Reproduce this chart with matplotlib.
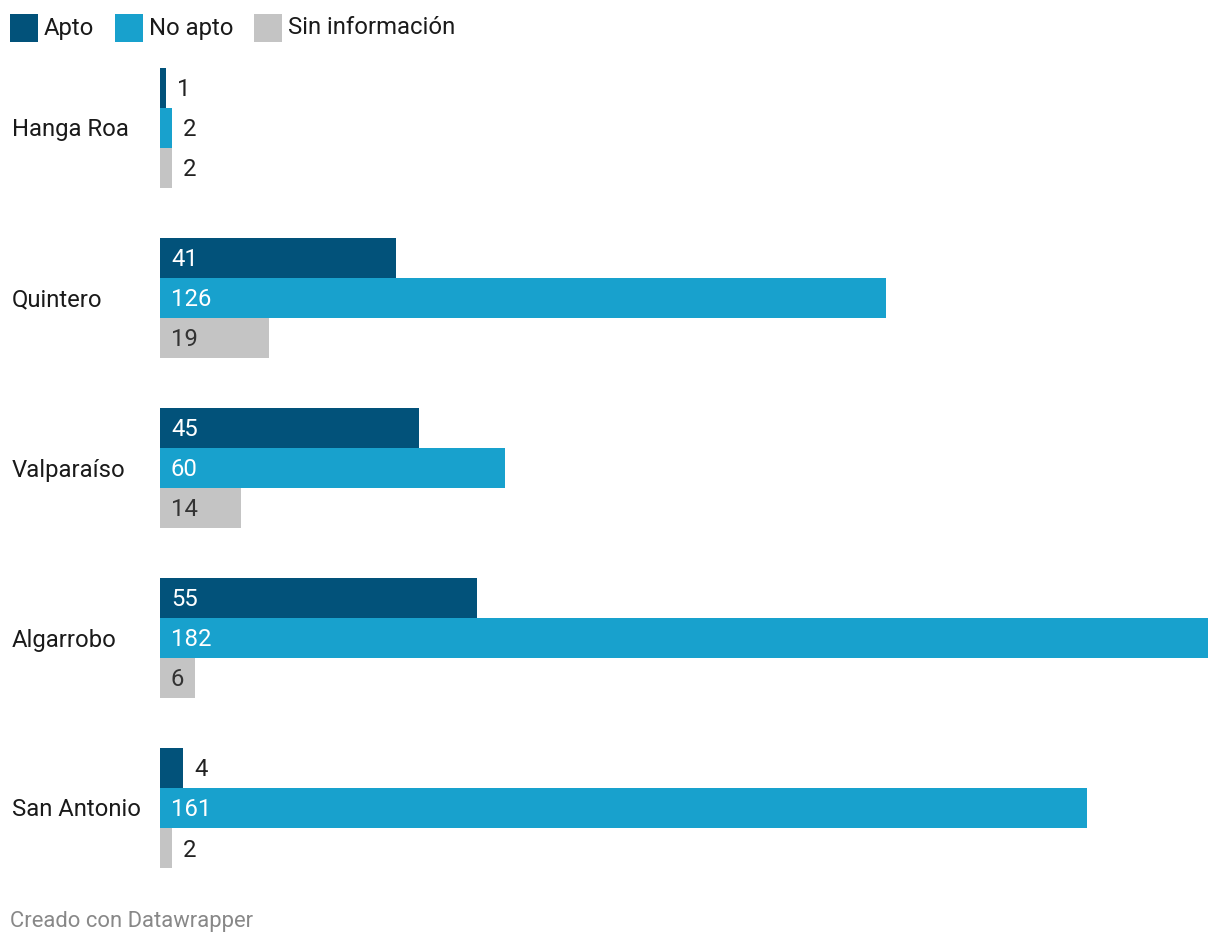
import matplotlib
matplotlib.use("Agg")
import matplotlib.pyplot as plt
from matplotlib.patches import Rectangle
from matplotlib.transforms import blended_transform_factory

plt.rcParams['font.family'] = ['Roboto', 'DejaVu Sans']

# datos
lugares = ["Hanga Roa", "Quintero", "Valparaíso", "Algarrobo", "San Antonio"]
series = ["Apto", "No apto", "Sin información"]
apto = [1, 41, 45, 55, 4]
no_apto = [2, 126, 60, 182, 161]
sin_info = [2, 19, 14, 6, 2]
colores = ["#02527a", "#18a1cd", "#c4c4c4"]
color_texto = ["white", "white", "#333333"]

W, H = 1220, 946
fig = plt.figure(figsize=(W / 100, H / 100), dpi=100)

# ejes en coordenadas de pixel: barras de 40 px, grupos cada 170 px
x0, x1, y0, y1 = 160, 1208, 68, 868
ax = fig.add_axes([x0 / W, 1 - y1 / H, (x1 - x0) / W, (y1 - y0) / H])
ax.set_xlim(0, max(no_apto))
ax.set_ylim(y1 - y0, 0)
ax.axis("off")

bar_h = 40
paso = 170
px = max(no_apto) / (x1 - x0)  # unidades por pixel
fs = 17.2

valores = [apto, no_apto, sin_info]
for i, lugar in enumerate(lugares):
    for j, vals in enumerate(valores):
        v = vals[i]
        y = paso * i + bar_h * j
        ax.barh(y, v, height=bar_h, align="edge", color=colores[j], linewidth=0)
        ancho_txt = len(str(v)) * 13 + 12
        if v / px > ancho_txt + 6:
            ax.text(11 * px, y + bar_h / 2 + 2, str(v), color=color_texto[j],
                    fontsize=fs, va="center", ha="left")
        else:
            ax.text(v + 11 * px, y + bar_h / 2 + 2, str(v), color="#222222",
                    fontsize=fs, va="center", ha="left")
    trans = blended_transform_factory(fig.transFigure, ax.transData)
    ax.text(12 / W, paso * i + bar_h * 1.5 + 2, lugar, transform=trans,
            fontsize=fs, color="#1a1a1a", va="center", ha="left")

# leyenda
leyenda_x = [10, 115, 254]
for k, nombre in enumerate(series):
    lx = leyenda_x[k]
    fig.patches.append(Rectangle((lx / W, 1 - 42 / H), 28 / W, 28 / H,
                                 transform=fig.transFigure, color=colores[k],
                                 linewidth=0))
    fig.text((lx + 34) / W, 1 - 28 / H, nombre, fontsize=fs, color="#1a1a1a",
             va="center", ha="left")

fig.text(10 / W, 1 - 921 / H, "Creado con Datawrapper", fontsize=15.8,
         color="#888888", va="center", ha="left")

fig.savefig("out.png", dpi=100, facecolor="white")
